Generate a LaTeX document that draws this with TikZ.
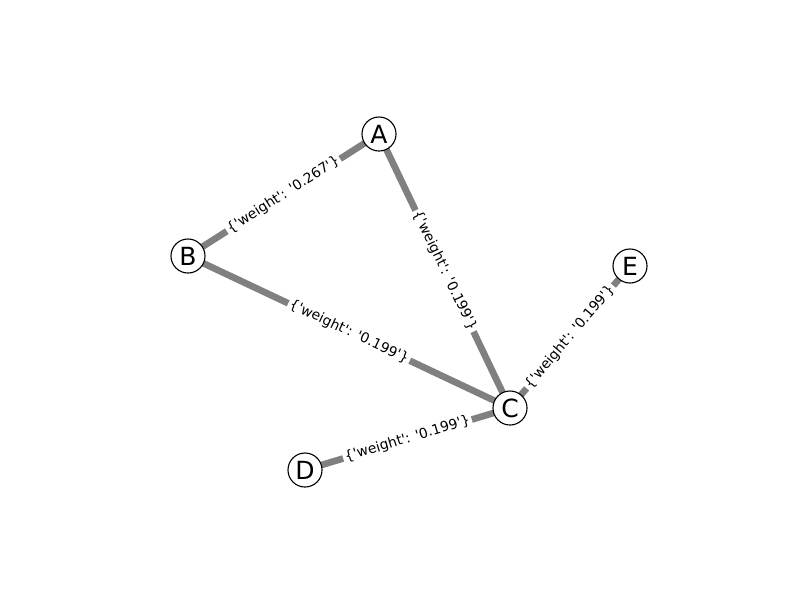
\documentclass[tikz,border=0pt]{standalone}
\usepackage{fontspec}
\setmainfont{DejaVu Sans}
\usetikzlibrary{backgrounds}
\newcommand\qq{\textquotesingle}
\newcommand\wt[1]{\{\qq weight\qq: \qq#1\qq\}}
\tikzset{
  vertex/.style={circle, draw=black, line width=0.8pt, fill=white, minimum size=24.5pt, inner sep=0pt, font=\fontsize{18}{18}\selectfont},
  edge/.style={draw=gray, line width=4.8pt},
  wlabel/.style={fill=white, inner sep=1.5pt, sloped, font=\fontsize{10}{12}\selectfont, text=black}
}
\begin{document}
\begin{tikzpicture}[x=0.72pt, y=-0.72pt]
\useasboundingbox (0,0) rectangle (800,600);
\node[vertex] (A) at (379,134) {A};
\node[vertex] (B) at (188,256) {B};
\node[vertex] (C) at (510,408) {C};
\node[vertex] (D) at (305,470) {D};
\node[vertex] (E) at (630,266) {E};
\begin{scope}[on background layer]
\draw[edge] (A.center) -- node[wlabel] {\wt{0.267}} (B.center);
\draw[edge] (A.center) -- node[wlabel] {\wt{0.199}} (C.center);
\draw[edge] (B.center) -- node[wlabel] {\wt{0.199}} (C.center);
\draw[edge] (D.center) -- node[wlabel] {\wt{0.199}} (C.center);
\draw[edge] (C.center) -- node[wlabel] {\wt{0.199}} (E.center);
\end{scope}
\end{tikzpicture}
\end{document}
